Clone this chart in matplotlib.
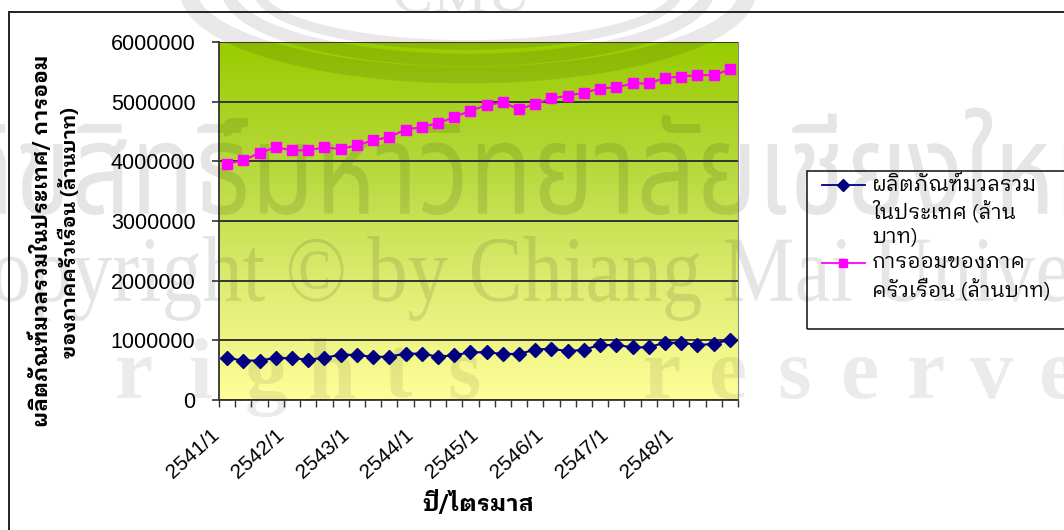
import numpy as np
import matplotlib
matplotlib.use("Agg")
import matplotlib.pyplot as plt
from matplotlib.colors import LinearSegmentedColormap
from matplotlib.textpath import TextPath
from matplotlib.patches import PathPatch, Rectangle, Ellipse
from matplotlib.font_manager import FontProperties
from matplotlib.transforms import Affine2D
from matplotlib.lines import Line2D

# quarterly data, 2541/1 .. 2548/4
quarters = [f"{y}/{q}" for y in range(2541, 2549) for q in range(1, 5)]
gdp = [705000, 661000, 661000, 705000, 700000, 678000, 705000, 761000,
       755000, 722000, 727000, 777000, 777000, 727000, 750000, 800000,
       800000, 772000, 772000, 844000, 861000, 817000, 844000, 922000,
       922000, 883000, 883000, 961000, 961000, 922000, 939000, 1011000]
savings = [3955000, 4020000, 4140000, 4235000, 4185000, 4185000, 4235000, 4205000,
           4270000, 4350000, 4410000, 4530000, 4575000, 4640000, 4740000, 4850000,
           4940000, 4990000, 4870000, 4965000, 5055000, 5100000, 5150000, 5220000,
           5240000, 5305000, 5305000, 5400000, 5420000, 5445000, 5445000, 5540000]
yticks = [0, 1000000, 2000000, 3000000, 4000000, 5000000, 6000000]

gdp_label = ["ผลิตภัณฑ์มวลรวม", "ในประเทศ (ล้าน", "บาท)"]
sav_label = ["การออมของภาค", "ครัวเรือน (ล้านบาท)"]
ylabel = ["ผลิตภัณฑ์มวลรวมในประเทศ/ การออม", "ของภาคครัวเรือน (ล้านบาท)"]
xlabel = "ปี/ไตรมาส"

THAI = ["IBM Plex Sans Thai Looped", "Liberation Sans"]
LAT = ["Liberation Sans", "DejaVu Sans"]

W, H = 1064, 530
fig = plt.figure(figsize=(W / 100, H / 100), dpi=100)

def px(x, y):
    return x / W, 1 - y / H

# plot area
left, top, right, bottom = 219, 42, 738, 400
pos = [left / W, 1 - bottom / H, (right - left) / W, (bottom - top) / H]

# gradient background in its own axes
ax_bg = fig.add_axes(pos, zorder=-2)
cmap = LinearSegmentedColormap.from_list("g", ["#FFFF99", "#DDEB70", "#B5D83A", "#99CC00"])
grad = np.linspace(0, 1, 256).reshape(-1, 1)
ax_bg.imshow(grad, aspect="auto", cmap=cmap, origin="lower", extent=(0, 1, 0, 1))
ax_bg.axis("off")

# watermark of the scanned page
def stamp(s, family, weight, x0, x1, ytop, ybot, alpha=0.1):
    tp = TextPath((0, 0), s, size=100, prop=FontProperties(family=family, weight=weight))
    ext = tp.get_extents()
    tr = (Affine2D().translate(-ext.x0, -ext.y0)
          .scale((x1 - x0) / ext.width, (ybot - ytop) / ext.height)
          .translate(x0, H - ybot))
    fig.add_artist(PathPatch(tp, transform=tr, facecolor="k", edgecolor="none",
                             alpha=alpha, zorder=-1))

stamp("ลิขสิทธิ์มหาวิทยาลัยเชียงใหม่", "Noto Sans Thai", "bold", -40, 1110, 106, 215)
stamp("Copyright © by Chiang Mai University", "Liberation Serif", "normal", -60, 1215, 236, 321)
letters = "All  rights  reserved"
for k, ch in enumerate(letters):
    if ch != " ":
        fig.text(*px(134 + 66 * (k - 5), 398), ch, ha="center", va="baseline",
                 fontsize=62, fontweight="bold", family="Liberation Serif",
                 color="k", alpha=0.08, zorder=-1)
for w_, h_, lw in [(560, 170, 12), (480, 140, 9), (420, 110, 7)]:
    fig.add_artist(Ellipse((468, H + 10), w_, h_, transform=None, fill=False,
                           edgecolor="k", alpha=0.09, lw=lw, zorder=-1))
stamp("CMU", "Liberation Serif", "normal", 395, 530, -25, 12)

# main axes
ax = fig.add_axes(pos, zorder=1)
ax.set_facecolor("none")
x = np.arange(len(quarters))
ax.plot(x, gdp, color="#000080", lw=1.5, marker="D", markersize=7,
        markerfacecolor="#000080", markeredgecolor="#000080")
ax.plot(x, savings, color="#FF00FF", lw=1.5, marker="s", markersize=6.5,
        markerfacecolor="#FF00FF", markeredgecolor="#FF00FF")

ax.set_xlim(-0.5, len(quarters) - 0.5)
ax.set_ylim(0, 6000000)
ax.set_yticks(yticks)
ax.set_yticklabels([str(v) for v in yticks], family=LAT, fontsize=15.5)
ax.yaxis.grid(True, color="#333333", lw=1.4)
ax.set_axisbelow(True)
ax.tick_params(axis="y", length=5, width=1.2, color="#333333", pad=12)

ax.set_xticks(x[::4])
ax.set_xticklabels(quarters[::4], rotation=42, ha="right", va="top",
                   family=LAT, fontsize=15, rotation_mode="anchor")
ax.set_xticks(np.arange(-0.5, len(quarters)), minor=True)
ax.tick_params(axis="x", which="major", length=0, pad=18)
ax.tick_params(axis="x", which="minor", length=5, width=1, color="#333333")
for lab in ax.get_xticklabels():
    lab.set_transform(lab.get_transform() + Affine2D().translate(-17, 0))

ax.spines["top"].set_visible(False)
ax.spines["right"].set_color("#888888")
ax.spines["left"].set_color("#333333")
ax.spines["left"].set_linewidth(1.3)
ax.spines["bottom"].set_color("#333333")
ax.spines["bottom"].set_linewidth(1.3)

yl1 = fig.text(*px(40, 241), ylabel[0], rotation=90, ha="center", va="center",
               family=THAI, fontsize=12, fontweight="bold")
yl2 = fig.text(*px(69, 233), ylabel[1], rotation=90, ha="center", va="center",
               family=THAI, fontsize=12, fontweight="bold")
xl = fig.text(*px(478, 503), xlabel, ha="center", va="center", family=THAI,
              fontsize=14, fontweight="bold")

# chart border
fig.add_artist(Rectangle(px(9, H + 20), (W + 20) / W, (H + 8) / H, transform=fig.transFigure,
                         fill=False, edgecolor="#222222", lw=1.4, zorder=2))

# legend (transparent, the watermark shows through)
fig.add_artist(Rectangle(px(807, 329), (W + 20 - 807) / W, (329 - 171) / H,
                         transform=fig.transFigure, facecolor="none",
                         edgecolor="#222222", lw=1.2, zorder=2))
leg_texts = []
for ys, lines, col, mk, ms in [(185, gdp_label, "#000080", "D", 6),
                               (263, sav_label, "#FF00FF", "s", 6)]:
    xa, ya = px(822, ys)
    xb, _ = px(843, ys)
    xc, _ = px(865, ys)
    fig.add_artist(Line2D([xa, xb, xc], [ya, ya, ya], transform=fig.transFigure,
                          color=col, lw=1.3, marker=mk, markersize=ms, markevery=[1],
                          zorder=3))
    for i, t in enumerate(lines):
        leg_texts.append(fig.text(*px(872, ys + 26 * i), t, ha="left", va="center",
                                  family=THAI, fontsize=12.5, zorder=3))

# scale a few texts to the lengths measured on the original
fig.canvas.draw()
r = fig.canvas.get_renderer()
for t, target, vert in [(yl1, 372, True), (yl2, 250, True), (xl, 112, False)]:
    bb = t.get_window_extent(r)
    t.set_fontsize(t.get_fontsize() * target / (bb.height if vert else bb.width))
bb = leg_texts[0].get_window_extent(r)
s = 165 / bb.width
for t in leg_texts:
    t.set_fontsize(t.get_fontsize() * s)

fig.savefig("out.png", dpi=100)
